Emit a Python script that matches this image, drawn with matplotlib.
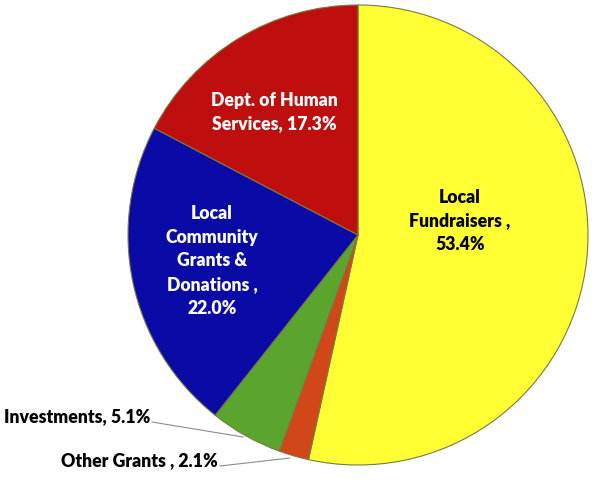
import matplotlib.pyplot as plt

# slice data, drawn clockwise from 12 o'clock
labels = ['Local Fundraisers', 'Other Grants', 'Investments',
          'Local Community Grants & Donations', 'Dept. of Human Services']
values = [53.4, 2.1, 5.1, 22.0, 17.3]
label_text = ['Local\nFundraisers ,\n53.4%', 'Other Grants , 2.1%', 'Investments, 5.1%',
              'Local\nCommunity\nGrants &\nDonations ,\n22.0%', 'Dept. of Human\nServices, 17.3%']
colors = ['#FFFF33', '#D2471A', '#5BA52E', '#0A0AA6', '#BE0E0E']

fig = plt.figure(figsize=(6.08, 4.96), dpi=100)
ax = fig.add_axes([0, 0, 1, 1])

# pie in pixel space (y axis inverted so flip direction)
cx, cy, R = 358, 235, 230
wedges, _ = ax.pie(values, colors=colors, startangle=-90, counterclock=True,
                   center=(cx, cy), radius=R, frame=True,
                   wedgeprops=dict(edgecolor='#7a7a40', linewidth=0.8))
ax.set_xlim(0, 608)
ax.set_ylim(496, 0)
ax.set_aspect('equal')
ax.axis('off')

font = dict(family=['Lato', 'DejaVu Sans'], fontweight='heavy', fontsize=12.7,
            linespacing=1.47)

ax.text(460, 221, label_text[0], ha='center', va='center', color='black', **font)
ax.text(274, 112, label_text[4], ha='center', va='center', color='white', **font)
ax.text(212, 261, label_text[3], ha='center', va='center', color='white', **font)

# outside labels with leader lines
ax.text(150, 417, label_text[2], ha='right', va='center', color='black', **font)
ax.plot([152, 243], [422, 437], color='#8c8c8c', lw=0.8)
ax.text(218, 461, label_text[1], ha='right', va='center', color='black', **font)
ax.plot([220, 290], [466, 458], color='#8c8c8c', lw=0.8)

fig.savefig('out.png', dpi=100)
